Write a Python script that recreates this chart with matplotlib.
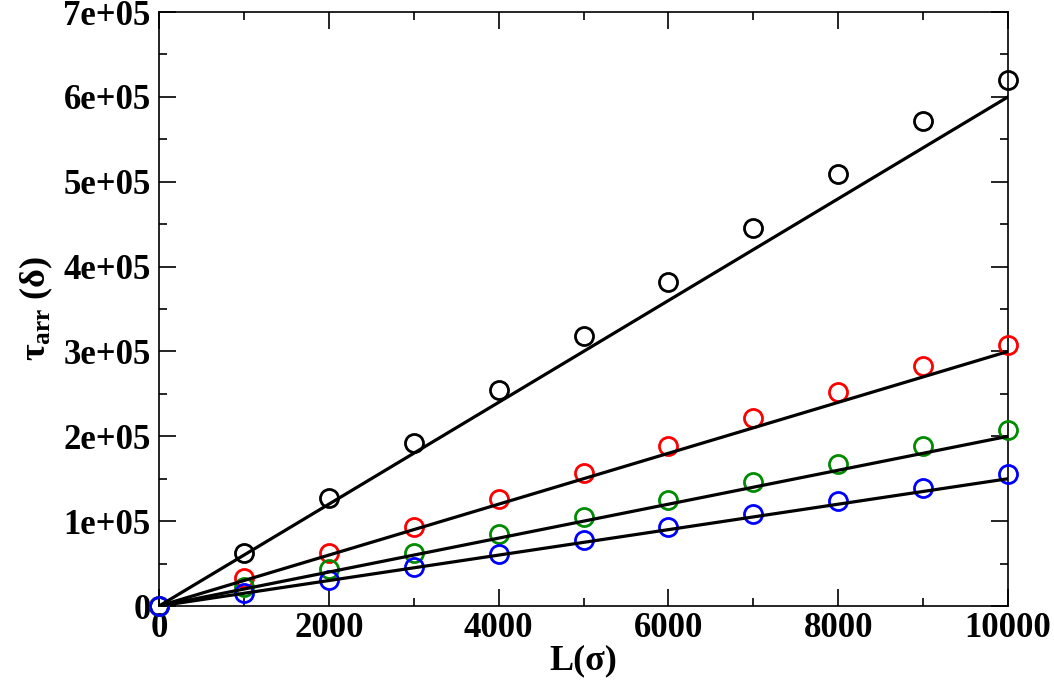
import matplotlib
matplotlib.use('Agg')
import matplotlib.pyplot as plt
from matplotlib.ticker import MultipleLocator, FuncFormatter

plt.rcParams['font.family'] = ['Liberation Serif', 'DejaVu Serif']
plt.rcParams['font.weight'] = 'bold'
plt.rcParams['mathtext.fontset'] = 'custom'
plt.rcParams['mathtext.rm'] = 'Liberation Serif:bold'
plt.rcParams['mathtext.it'] = 'Liberation Serif:bold'
plt.rcParams['mathtext.bf'] = 'Liberation Serif:bold'

# 数据
L = [0, 1000, 2000, 3000, 4000, 5000, 6000, 7000, 8000, 9000, 10000]
tau_black = [0, 62800, 127000, 192000, 254000, 318000, 382000, 445000, 509000, 571000, 620000]
tau_red = [0, 33000, 62000, 93500, 126000, 157000, 189000, 221000, 252000, 283000, 307000]
tau_green = [0, 22500, 43500, 63000, 84500, 105000, 125500, 146000, 167000, 188000, 208000]
tau_blue = [0, 15000, 31000, 46500, 61500, 77500, 93000, 108000, 124000, 139000, 155000]
fit_slopes = [60, 30, 20, 15]

series = [tau_black, tau_red, tau_green, tau_blue]
colors = ['black', '#ff0000', '#008b00', '#0000ff']

fig = plt.figure(figsize=(10.54, 6.86), dpi=100)
ax = fig.add_axes([0.1509, 0.1166, 0.8055, 0.8659])

for y, c in zip(series, colors):
    ax.plot(L, y, 'o', mfc='none', mec=c, ms=13, mew=2, clip_on=False, zorder=3)

for k in fit_slopes:
    ax.plot([L[0], L[-1]], [k * L[0], k * L[-1]], color='black', lw=2.3, zorder=4)

ax.set_xlim(0, 10000)
ax.set_ylim(0, 700000)
ax.xaxis.set_major_locator(MultipleLocator(2000))
ax.xaxis.set_minor_locator(MultipleLocator(1000))
ax.yaxis.set_major_locator(MultipleLocator(100000))
ax.yaxis.set_minor_locator(MultipleLocator(50000))


def sci(v, pos):
    if v == 0:
        return '0'
    return '%de+05' % round(v / 100000)


ax.yaxis.set_major_formatter(FuncFormatter(sci))
ax.tick_params(which='both', direction='in', top=True, right=True, width=1.2)
ax.tick_params(which='major', length=12, labelsize=25, pad=4)
ax.tick_params(which='minor', length=6)
ax.tick_params(axis='y', which='major', pad=6)
for s in ax.spines.values():
    s.set_linewidth(1.2)

ax.set_xlabel('L(σ)', fontsize=26, fontweight='bold', labelpad=0)
ax.set_ylabel(r'$\tau_{\rm arr}$ (δ)', fontsize=26, fontweight='bold', labelpad=6)

plt.savefig('out.png', dpi=100)
